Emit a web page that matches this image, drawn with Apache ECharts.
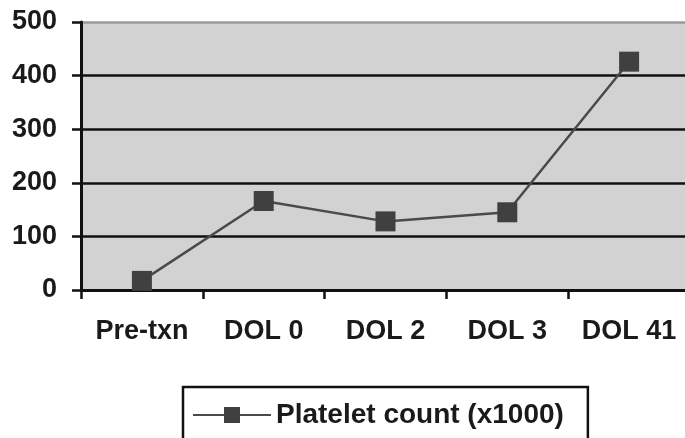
<!DOCTYPE html>
<html><head><meta charset="utf-8">
<script src="https://cdn.jsdelivr.net/npm/echarts@6/dist/echarts.min.js"></script>
<style>html,body{margin:0;padding:0;background:#fff;overflow:hidden;width:685px;height:438px}#c{width:690px;height:438px}</style>
</head><body><div id="c"></div>
<script>
var categories = ['Pre-txn', 'DOL 0', 'DOL 2', 'DOL 3', 'DOL 41'];
var plateletValues = [17, 166, 128, 145, 426];
var seriesName = 'Platelet count (x1000)';
var yMin = 0, yMax = 500, yStep = 100;

var chart = echarts.init(document.getElementById('c'), null, {renderer: 'canvas'});
var font = 'Arial, "Liberation Sans", sans-serif';
chart.setOption({
  animation: false,
  backgroundColor: '#ffffff',
  grid: {left: 81, top: 22, right: 0, bottom: 148, show: true, backgroundColor: '#d2d2d2', borderWidth: 0},
  legend: {
    left: 183, top: 387, orient: 'horizontal',
    data: [seriesName],
    borderColor: '#111', borderWidth: 2.5, borderRadius: 0,
    padding: [14, 24, 30, 9],
    itemWidth: 78, itemHeight: 20, itemGap: 6,
    textStyle: {fontFamily: font, fontWeight: 'bold', fontSize: 28, color: '#1a1a1a'}
  },
  xAxis: {
    type: 'category', data: categories, boundaryGap: true,
    axisLine: {lineStyle: {color: '#111', width: 3}},
    axisTick: {show: true, interval: 0, length: 9, lineStyle: {color: '#111', width: 2.5}},
    axisLabel: {interval: 0, hideOverlap: false, margin: 28, fontFamily: font, fontWeight: 'bold', fontSize: 27, color: '#1a1a1a'},
    splitLine: {show: false}
  },
  yAxis: {
    type: 'value', min: yMin, max: yMax, interval: yStep,
    axisLine: {show: true, lineStyle: {color: '#111', width: 3}},
    axisTick: {show: true, length: 9, lineStyle: {color: '#111', width: 2.5}},
    axisLabel: {margin: 24, fontFamily: font, fontWeight: 'bold', fontSize: 27, color: '#1a1a1a'},
    splitLine: {show: true, lineStyle: {color: ['#111', '#111', '#111', '#111', '#111', '#9a9a9a'], width: 2.5}}
  },
  series: [{
    name: seriesName, type: 'line', data: plateletValues,
    symbol: 'rect', symbolSize: 20,
    lineStyle: {color: '#4a4a4a', width: 2.5},
    itemStyle: {color: '#404040', borderColor: '#333', borderWidth: 0}
  }]
});
</script></body></html>
